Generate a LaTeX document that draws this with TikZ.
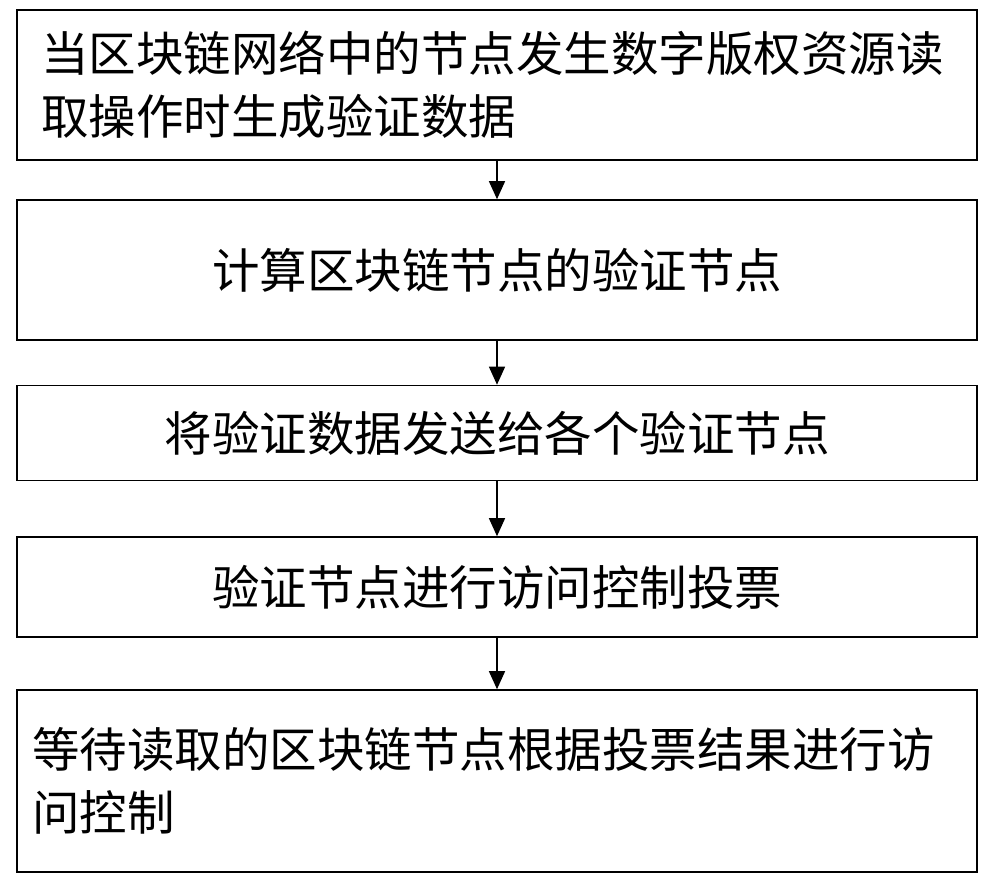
\documentclass[tikz,border=0pt]{standalone}
\usepackage{fontspec}
\setmainfont{Noto Sans CJK SC}
\usetikzlibrary{arrows.meta}
\begin{document}
\begin{tikzpicture}[x=1pt,y=-1pt,
  box/.style={draw,line width=1.6pt,minimum width=960pt,inner sep=0pt,font=\fontsize{47.5}{63}\selectfont},
  arr/.style={-{Triangle[length=18pt,width=16pt]},line width=1.4pt}]
\useasboundingbox (0,0) rectangle (1000,889);
\node[box,minimum height=150pt,align=left,text width=912pt] (b1) at (497,85) {当区块链网络中的节点发生数字版权资源读\\取操作时生成验证数据};
\node[box,minimum height=140pt] (b2) at (497,270) {计算区块链节点的验证节点};
\node[box,minimum height=95pt] (b3) at (497,433) {将验证数据发送给各个验证节点};
\node[box,minimum height=100pt] (b4) at (497,587) {验证节点进行访问控制投票};
\node[box,minimum height=182pt,align=left,text width=930pt] (b5) at (497,781) {等待读取的区块链节点根据投票结果进行访\\问控制};
\draw[arr] (b1.south) -- (b2.north);
\draw[arr] (b2.south) -- (b3.north);
\draw[arr] (b3.south) -- (b4.north);
\draw[arr] (b4.south) -- (b5.north);
\end{tikzpicture}
\end{document}
